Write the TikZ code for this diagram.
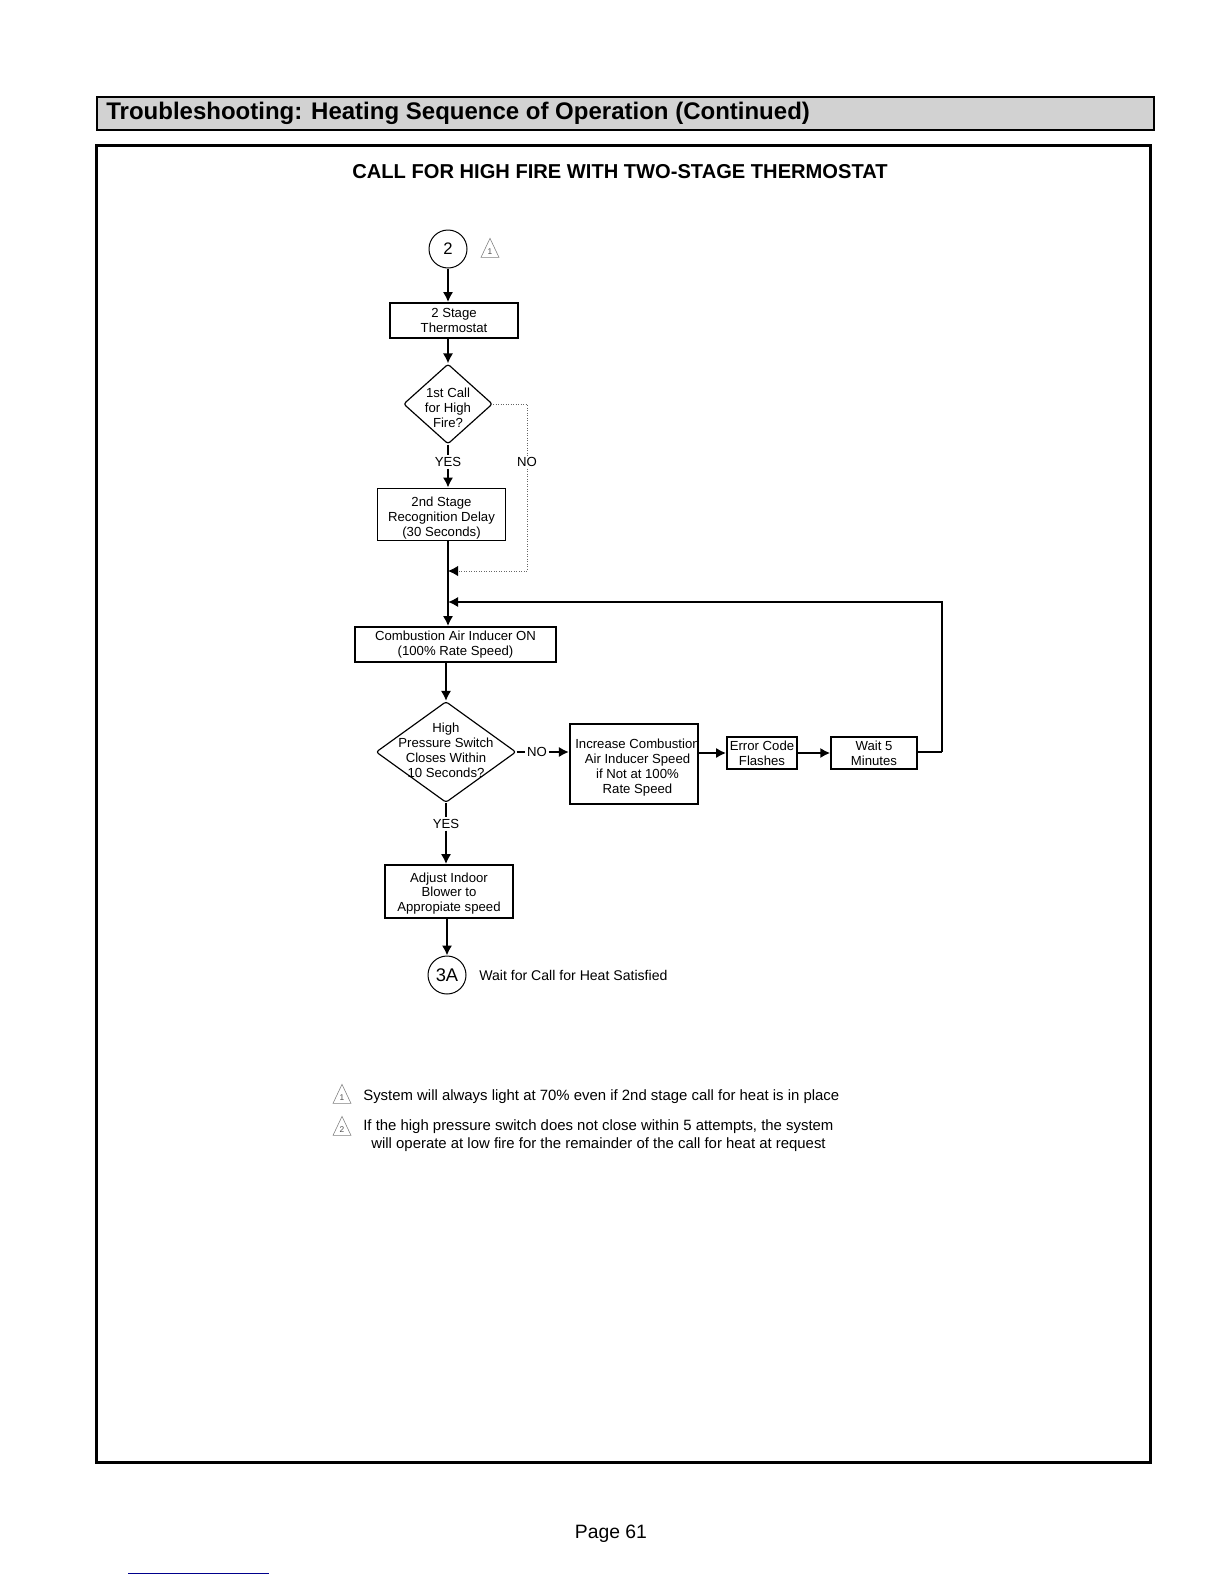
\documentclass[tikz,border=0pt]{standalone}
\usepackage{fontspec}
\setmainfont{Liberation Sans}
\usetikzlibrary{shapes.geometric,arrows.meta}
\newcommand{\flowfont}{\fontsize{7.9}{8.9}\selectfont}
\newcommand{\notefont}{\fontsize{8.95}{10}\selectfont}
\tikzset{
	flowbox/.style={draw, line width=1.1pt, rectangle, align=center, inner sep=0pt, font=\flowfont},
	flowtext/.style={align=center, inner sep=0pt, font=\flowfont},
	decision/.style={draw, line width=.7pt, diamond, aspect=1, inner sep=0pt, rounded corners=1.5pt},
	joint/.style={draw, line width=.6pt, circle, inner sep=0pt, minimum size=22.8pt, font=\fontsize{10}{11}\selectfont},
	flow/.style={line width=1.2pt, -{Latex[length=6pt,width=6.2pt]}},
	plainflow/.style={line width=1.2pt},
	thinflow/.style={line width=.7pt},
	noteflow/.style={line width=.5pt, black!60, densely dotted},
	caption/.style={align=center, inner sep=1pt, font=\flowfont},
	notemark/.style={draw=gray, line width=.35pt, isosceles triangle, shape border rotate=90, isosceles triangle stretches, inner sep=0pt, minimum width=10.8pt, minimum height=11.4pt, text=gray!60!black, font=\fontsize{5}{5}\selectfont},
	notetext/.style={anchor=west, inner sep=0pt, font=\notefont}
}
\begin{document}
\begin{tikzpicture}[x=0.6pt,y=-0.6pt]
		\useasboundingbox (0,0) rectangle (1224,1584);
		
		% page furniture
		\node[draw, line width=1.2pt, fill=gray!35, minimum width=634.2pt, minimum height=19.8pt, inner sep=0pt] (headbar) at (625.3,113.5) {};
		\node[anchor=west, inner sep=0pt, font=\bfseries\fontsize{14.4}{16}\selectfont] (headtext) at (106,113) {Troubleshooting: Heating Sequence of Operation (Continued)};
		\node[draw, line width=2pt, minimum width=632.4pt, minimum height=790pt, inner sep=0pt] (frame) at (623.4,804) {};
		\node[inner sep=0pt, font=\bfseries\fontsize{12.07}{14}\selectfont] (title) at (620,172) {CALL FOR HIGH FIRE WITH TWO-STAGE THERMOSTAT};
		\node[inner sep=0pt, font=\fontsize{11.6}{14}\selectfont] (page) at (611,1534) {Page 61};
		\coordinate (rule_0) at (128,1573);
		\coordinate (rule_1) at (269,1573);
		\draw[line width=.6pt, blue!55!black] (rule_0) -- (rule_1);
		
		% flow nodes
		\node[joint] (two) at (448,249) {2};
		\node[notemark] (markA) at (490,252) {1};
		\node[flowbox, minimum width=76.8pt, minimum height=21pt] (thermo) at (454,320.5) {2 Stage\\Thermostat};
		\node[decision, minimum width=53.4pt, minimum height=48pt] (firstcall) at (448,404) {};
		\node[flowtext] (firsttext) at (448,408) {1st Call\\for High\\Fire?};
		\node[caption] (yesA) at (448,462) {YES};
		\node[caption] (noA) at (527,462) {NO};
		\node[flowbox, minimum width=76.8pt, minimum height=31.2pt] (delay) at (441.5,514.5) {};
		\node[flowtext] (delaytext) at (441.5,518) {2nd Stage\\Recognition Delay\\(30 Seconds)};
		\coordinate (joinA) at (448,571);
		\coordinate (joinB) at (448,602);
		\node[flowbox, minimum width=121pt, minimum height=21pt] (inducer) at (455.5,644.5) {Combustion Air Inducer ON\\(100\% Rate Speed)};
		\node[decision, minimum width=84pt, minimum height=60.6pt] (switch) at (446,752) {};
		\node[flowtext] (switchtext) at (446,750.5) {High\\Pressure Switch\\Closes Within\\10 Seconds?};
		\node[caption] (noB) at (537,752) {NO};
		\node[flowbox, minimum width=77pt, minimum height=48pt] (increase) at (634,764) {};
		\node[flowtext] (increasetext) at (637.5,767.5) {Increase Combustion\\Air Inducer Speed\\if Not at 100\%\\Rate Speed};
		\node[flowbox, minimum width=42pt, minimum height=19.2pt] (error) at (762,753) {Error Code\\Flashes};
		\node[flowbox, minimum width=51.4pt, minimum height=19.2pt] (wait) at (874,753) {Wait 5\\Minutes};
		\coordinate (cornerA) at (942,752);
		\coordinate (cornerB) at (942,602);
		\node[caption] (yesB) at (446,824) {YES};
		\node[flowbox, minimum width=76.6pt, minimum height=31.8pt] (blower) at (449,891.5) {};
		\node[flowtext] (blowertext) at (449,893.5) {Adjust Indoor\\Blower to\\Appropiate speed};
		\node[joint, font=\fontsize{11}{12}\selectfont] (threeA) at (447,975) {3A};
		\node[anchor=west, inner sep=0pt, font=\fontsize{8.45}{10}\selectfont] (satisfied) at (479,975) {Wait for Call for Heat Satisfied};
		
		% notes
		\node[notemark] (markB) at (342,1098) {1};
		\node[notetext] (noteA) at (363,1097) {System will always light at 70\% even if 2nd stage call for heat is in place};
		\node[notemark] (markC) at (342,1130) {2};
		\node[notetext] (noteB) at (363,1127) {If the high pressure switch does not close within 5 attempts, the system};
		\node[notetext] (noteC) at (371,1145) {will operate at low fire for the remainder of the call for heat at request};
		
		% connectors
		\draw[flow] (two) -- (two |- thermo.north);
		\draw[flow] (two |- thermo.south) -- (firstcall.north);
		\draw[thinflow] (firstcall.south) -- (yesA.north);
		\draw[flow] (yesA.south) -- (yesA |- delay.north);
		\draw[noteflow] (firstcall.east) -| (noA.north);
		\draw[noteflow, -{Latex[black, length=6pt, width=6.2pt]}] (noA.south) |- (joinA);
		\draw[flow] (joinA |- delay.south) -- (joinA |- inducer.north);
		\draw[flow] (cornerA) -- (cornerB) -- (joinB);
		\draw[flow] (switch |- inducer.south) -- (switch.north);
		\draw[thinflow] (switch.east) -- (noB.west);
		\draw[flow] (noB.east) -- (noB -| increase.west);
		\draw[flow] (increase.east |- error) -- (error.west);
		\draw[flow] (error.east) -- (wait.west);
		\draw[plainflow] (wait.east |- cornerA) -- (cornerA);
		\draw[thinflow] (switch.south) -- (yesB.north);
		\draw[flow] (yesB.south) -- (yesB |- blower.north);
		\draw[flow] (threeA |- blower.south) -- (threeA.north);
	\end{tikzpicture}
\end{document}
